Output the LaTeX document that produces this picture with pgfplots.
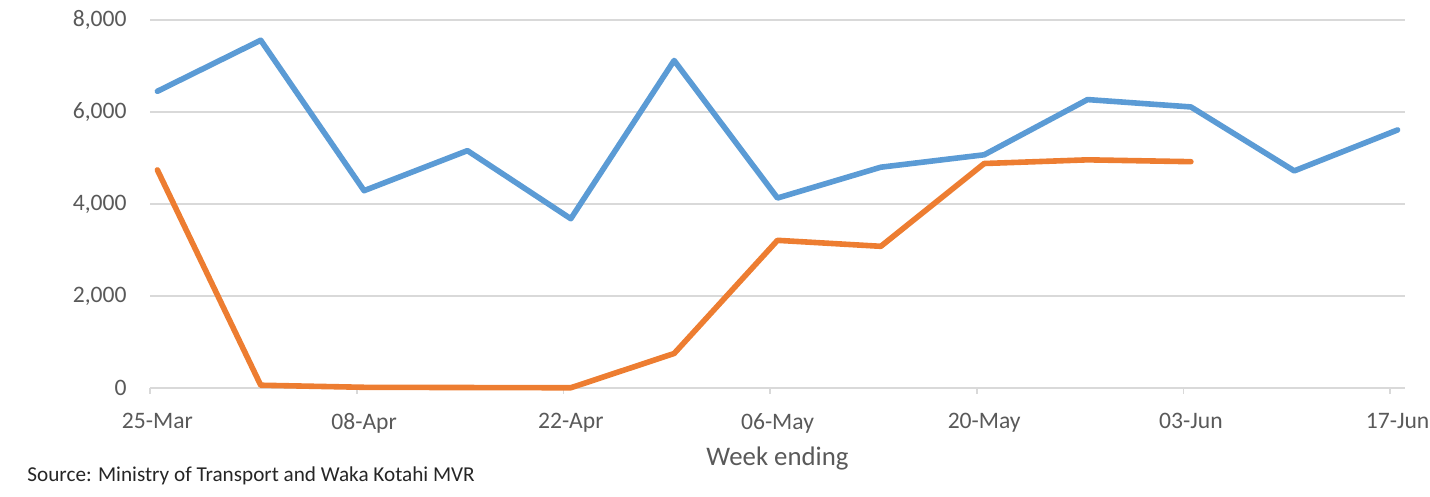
\documentclass[border=0pt]{standalone}
\usepackage{pgfplots}
\pgfplotsset{compat=1.18}
\usepackage{fontspec}
\setmainfont{Carlito}
\definecolor{exblue}{HTML}{5B9BD5}
\definecolor{exorange}{HTML}{ED7D31}
\definecolor{gridc}{HTML}{D9D9D9}
\definecolor{textc}{HTML}{595959}
\begin{document}
\begin{tikzpicture}
\path[use as bounding box] (0,0) rectangle (715pt,248.5pt);
\begin{axis}[
  at={(75pt,54.5pt)}, anchor=south west,
  width=627.5pt, height=184pt, scale only axis,
  xmin=0, xmax=85, ymin=0, ymax=8000,
  axis x line*=bottom, axis y line*=left,
  y axis line style={draw=none},
  x axis line style={draw=gridc, line width=0.8pt},
  xtick={0,14,28,42,56,70,84},
  xticklabels={25-Mar,08-Apr,22-Apr,06-May,20-May,03-Jun,17-Jun},
  ytick={0,2000,4000,6000,8000},
  ymajorgrids, grid style={draw=gridc, line width=0.8pt},
  tick align=outside, major tick length=3pt,
  x tick style={draw=gridc, line width=0.8pt},
  y tick style={draw=none},
  /pgf/number format/1000 sep={,},
  /pgf/number format/assume math mode=true,
  tick label style={font=\fontsize{11.8pt}{14pt}\selectfont, text=textc, inner sep=0pt},
  xticklabel style={anchor=north, xshift=3.7pt, yshift=-9.5pt},
  yticklabel style={anchor=east, xshift=-8.5pt},
  xlabel={Week ending},
  xlabel style={at={(axis description cs:0.5,0)}, anchor=base, yshift=-39pt, font=\fontsize{13.4pt}{16pt}\selectfont, text=textc, inner sep=0pt},
  clip=false,
]
\addplot[exblue, line width=2.8pt, line join=round, line cap=round] coordinates {
 (0.5,6450) (7.5,7560) (14.5,4290) (21.5,5160) (28.5,3680) (35.5,7120) (42.5,4130)
 (49.5,4800) (56.5,5070) (63.5,6270) (70.5,6110) (77.5,4720) (84.5,5610)
};
\addplot[exorange, line width=2.8pt, line join=round, line cap=round] coordinates {
 (0.5,4740) (7.5,60) (14.5,15) (21.5,10) (28.5,5) (35.5,750) (42.5,3210)
 (49.5,3080) (56.5,4880) (63.5,4960) (70.5,4920)
};
\end{axis}
\node[anchor=base west, inner sep=0pt, font=\fontsize{10.6pt}{12pt}\selectfont, text=black!85] at (13.5pt,7.65pt) {Source: Ministry of Transport and Waka Kotahi MVR};
\end{tikzpicture}
\end{document}
